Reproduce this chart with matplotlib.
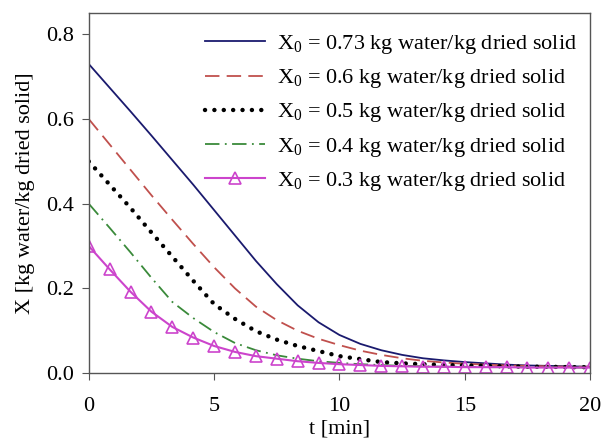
import matplotlib
matplotlib.use("Agg")
import matplotlib.pyplot as plt
import numpy as np

plt.rcParams['font.family'] = 'Liberation Serif'
plt.rcParams['mathtext.fontset'] = 'custom'
plt.rcParams['mathtext.rm'] = 'Liberation Serif'
plt.rcParams['mathtext.it'] = 'Liberation Serif:italic'

# drying time [min], sampled every 20/24 min
t = np.linspace(0, 20, 25)

x073 = [0.730, 0.674, 0.618, 0.561, 0.503, 0.445, 0.385, 0.325, 0.265, 0.210,
        0.160, 0.120, 0.090, 0.069, 0.054, 0.043, 0.035, 0.030, 0.026, 0.023,
        0.020, 0.018, 0.017, 0.016, 0.015]
x060 = [0.600, 0.540, 0.480, 0.420, 0.362, 0.305, 0.250, 0.200, 0.157, 0.125,
        0.100, 0.081, 0.066, 0.053, 0.043, 0.035, 0.029, 0.025, 0.022, 0.020,
        0.018, 0.017, 0.016, 0.015, 0.015]
x050 = [0.500, 0.445, 0.390, 0.332, 0.275, 0.218, 0.163, 0.128, 0.099, 0.079,
        0.064, 0.052, 0.040, 0.033, 0.026, 0.023, 0.021, 0.019, 0.018, 0.017,
        0.016, 0.015, 0.015, 0.014, 0.014]
x040 = [0.400, 0.343, 0.285, 0.225, 0.168, 0.130, 0.097, 0.071, 0.054, 0.042,
        0.034, 0.028, 0.024, 0.021, 0.019, 0.017, 0.016, 0.015, 0.015, 0.014,
        0.014, 0.014, 0.014, 0.013, 0.013]
x030 = [0.300, 0.245, 0.192, 0.145, 0.109, 0.084, 0.064, 0.050, 0.040, 0.034,
        0.028, 0.024, 0.021, 0.019, 0.017, 0.016, 0.015, 0.015, 0.014, 0.014,
        0.014, 0.013, 0.013, 0.013, 0.013]

labels = [r'X$_0$ = 0.73 kg water/kg dried solid',
          r'X$_0$ = 0.6 kg water/kg dried solid',
          r'X$_0$ = 0.5 kg water/kg dried solid',
          r'X$_0$ = 0.4 kg water/kg dried solid',
          r'X$_0$ = 0.3 kg water/kg dried solid']

fig = plt.figure(figsize=(6.04, 4.41), dpi=100)
ax = fig.add_axes([0.147, 0.154, 0.83, 0.816])

ax.plot(t, x073, color='#1a1a6e', lw=1.3, label=labels[0])
ax.plot(t, x060, color='#c0504d', lw=1.3, dashes=(8, 4), label=labels[1])
ax.plot(t, x050, color='black', lw=3.2, dashes=(0.01, 2.1), dash_capstyle='round',
        label=labels[2])
ax.plot(t, x040, color='#3a8a3a', lw=1.3, dashes=(8, 3, 1, 3), label=labels[3])
ax.plot(t, x030, color='#cc44cc', lw=1.5, marker='^', ms=8, mfc='none',
        mec='#cc44cc', mew=1.2, label=labels[4])

ax.set_xlim(0, 20)
ax.set_ylim(0, 0.85)
ax.set_xticks([0, 5, 10, 15, 20])
ax.set_yticks([0.0, 0.2, 0.4, 0.6, 0.8])
ax.set_yticklabels(['0.0', '0.2', '0.4', '0.6', '0.8'])
ax.tick_params(axis='both', direction='out', length=5, labelsize=16,
               color='#555555')
ax.tick_params(axis='x', pad=12)
ax.tick_params(axis='y', pad=6)
for s in ax.spines.values():
    s.set_color('#555555')
    s.set_linewidth(1.0)

ax.set_xlabel('t [min]', fontsize=16, labelpad=3)
ax.set_ylabel('X [kg water/kg dried solid]', fontsize=16, labelpad=8)

ax.legend(loc='upper right', bbox_to_anchor=(1.013, 1.0), fontsize=16,
          frameon=False, handlelength=2.7, handletextpad=0.5,
          labelspacing=0.5, borderaxespad=0.5)

plt.savefig('out.png', dpi=100)
